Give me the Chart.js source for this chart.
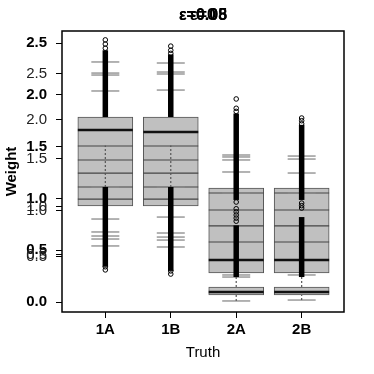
<!DOCTYPE html>
<html>
<head>
<meta charset="utf-8">
<script src="https://cdn.jsdelivr.net/npm/chart.js@4"></script>
<style>
  html, body { margin: 0; padding: 0; background: #fff; }
  #wrap { width: 374px; height: 374px; }
</style>
</head>
<body>
<div id="wrap"><canvas id="chart" width="374" height="374"></canvas></div>
<script>
// overlaid panels, values read on the bold (left-most) weight scale
const categories = ['1A', '1B', '2A', '2B'];
const titles = ['ε=0', 'ε=0.05', 'ε=0.08'];

const q1 = [0.927, 0.927, 0.280, 0.280];
const q3 = [1.786, 1.786, 1.100, 1.100];
const medians = [1.660, 1.641, 0.405, 0.405];

// the little boxes near zero under 2A / 2B
const lowQ1 = [null, null, 0.068, 0.068];
const lowQ3 = [null, null, 0.145, 0.145];
const lowMedians = [null, null, 0.097, 0.097];

const innerLines = [
    [1.506, 1.371, 1.245, 1.110, 0.994],
    [1.506, 1.371, 1.245, 1.110, 0.994],
    [1.052, 0.888, 0.734, 0.579],
    [1.052, 0.888, 0.734, 0.579]
];
const caps = [
    [2.317, 2.210, 2.191, 2.037, 1.110, 0.801, 0.676, 0.637, 0.608, 0.541],
    [2.307, 2.220, 2.201, 2.046, 1.110, 0.820, 0.666, 0.627, 0.598, 0.531],
    [1.419, 1.400, 1.371, 1.255, 1.052, 0.261, 0.241, 0.010],
    [1.409, 1.380, 1.245, 1.052, 0.261, 0.019]
];
const whiskers = [
    [[1.11, 1.51]],
    [[1.11, 1.51]],
    [[0.010, 0.068], [0.145, 0.26]],
    [[0.019, 0.068], [0.145, 0.26]]
];
// stretches where the outliers pile up into a solid column
const outlierBands = [
    [[0.34, 1.11], [1.786, 2.43]],
    [[0.30, 1.11], [1.786, 2.39]],
    [[0.241, 0.74], [0.985, 1.82]],
    [[0.241, 0.82], [0.985, 1.71]]
];
const outliers = [
    [2.53, 2.49, 2.45, 0.31, 0.34],
    [2.47, 2.43, 2.40, 0.27, 0.30],
    [1.96, 1.87, 1.84, 0.965, 0.90, 0.87, 0.84, 0.81, 0.78],
    [1.776, 1.75, 1.72, 0.955, 0.93, 0.907]
];

// bold scale is the real axis, the other two belong to the panels drawn underneath
const yTicks = [0, 0.5, 1.0, 1.5, 2.0, 2.5];
const y2Ticks = [0.5, 1.0, 2.0, 2.5];
const y3Ticks = [0.5, 1.0, 1.5];

const FONT = "'Liberation Sans', Arial, sans-serif";

const boxData = categories.map((c, i) => ({ x: i + 1, y: [q1[i], q3[i]] }));
const lowBoxData = [];
categories.forEach((c, i) => {
    if (lowQ1[i] !== null) lowBoxData.push({ x: i + 1, y: [lowQ1[i], lowQ3[i]] });
});
const pts = (lists) => {
    const out = [];
    lists.forEach((arr, i) => arr.forEach(v => { if (v !== null) out.push({ x: i + 1, y: v }); }));
    return out;
};

const datasets = [
    { type: 'bar', data: boxData, backgroundColor: '#c0c0c0', borderColor: '#555', borderWidth: 1,
      borderSkipped: false, barThickness: 55, grouped: false, order: 10 },
    { type: 'bar', data: lowBoxData, backgroundColor: '#c0c0c0', borderColor: '#555', borderWidth: 1,
      borderSkipped: false, barThickness: 55, grouped: false, order: 10 },
    { type: 'scatter', data: pts(innerLines), pointStyle: 'line', pointRadius: 27.5,
      borderColor: '#444', pointBorderWidth: 1.2, order: 8 },
    { type: 'scatter', data: pts(medians.map((m, i) => [m, lowMedians[i]])),
      pointStyle: 'line', pointRadius: 27.5, borderColor: '#111', pointBorderWidth: 2.5, order: 7 },
    { type: 'scatter', data: pts(caps), pointStyle: 'line', pointRadius: 14,
      borderColor: '#8a8a8a', pointBorderWidth: 1.3, order: 6 }
];

whiskers.forEach((segs, i) => segs.forEach(s => {
    datasets.push({ type: 'line', data: [{ x: i + 1, y: s[0] }, { x: i + 1, y: s[1] }],
        borderColor: '#555', borderWidth: 1.2, borderDash: [2, 2], pointRadius: 0, order: 5 });
}));
outlierBands.forEach((segs, i) => segs.forEach(s => {
    datasets.push({ type: 'line', data: [{ x: i + 1, y: s[0] }, { x: i + 1, y: s[1] }],
        borderColor: '#000', borderWidth: 5.5, pointRadius: 0, order: 3 });
}));
datasets.push({ type: 'scatter', data: pts(outliers), pointStyle: 'circle', pointRadius: 2.3,
    backgroundColor: 'rgba(0,0,0,0)', borderColor: '#000', pointBorderWidth: 1, order: 2 });

// frame, the extra (thin) tick scales and the stacked panel titles
const framePlugin = {
    id: 'frame',
    afterDraw(chart) {
        const { ctx, chartArea: a } = chart;
        ctx.save();
        ctx.strokeStyle = '#000';
        ctx.lineWidth = 1.5;
        ctx.strokeRect(a.left, a.top, a.right - a.left, a.bottom - a.top);

        ctx.lineWidth = 1;
        ctx.fillStyle = '#222';
        ctx.font = '15px ' + FONT;
        ctx.textAlign = 'right';
        ctx.textBaseline = 'middle';
        [['y2', y2Ticks], ['y3', y3Ticks]].forEach(([id, arr]) => {
            const sc = chart.scales[id];
            arr.forEach(v => {
                const py = Math.round(sc.getPixelForValue(v)) + 0.5;
                ctx.beginPath();
                ctx.moveTo(a.left - 6, py);
                ctx.lineTo(a.left, py);
                ctx.stroke();
                ctx.fillText(v.toFixed(1), a.left - 15, py);
            });
        });

        ctx.fillStyle = '#000';
        ctx.font = 'bold 16px ' + FONT;
        ctx.textAlign = 'center';
        titles.forEach(t => ctx.fillText(t, (a.left + a.right) / 2, 16));
        ctx.restore();
    }
};

const tickGrid = { drawOnChartArea: false, drawTicks: true, tickLength: 6, color: '#000', lineWidth: 1, offset: false };
const setTicks = (arr) => (scale) => { scale.ticks = arr.map(v => ({ value: v })); };

new Chart(document.getElementById('chart'), {
    type: 'bar',
    data: { datasets: datasets },
    options: {
        responsive: false,
        animation: false,
        events: [],
        layout: { padding: { top: 31, right: 19, left: 0, bottom: 0 } },
        plugins: { legend: { display: false }, tooltip: { enabled: false } },
        scales: {
            x: {
                type: 'linear', min: 0.338, max: 4.647, offset: false,
                afterBuildTicks: setTicks([1, 2, 3, 4]),
                afterFit: (s) => { s.height = 62; },
                grid: tickGrid, border: { display: false },
                ticks: { color: '#000', padding: 3, font: { family: FONT, size: 15, weight: 'bold' },
                         callback: (v) => categories[v - 1] },
                title: { display: true, text: 'Truth', color: '#000', padding: 12,
                         font: { family: FONT, size: 15 } }
            },
            y: {
                type: 'linear', position: 'left', min: -0.0965, max: 2.616,
                afterBuildTicks: setTicks(yTicks),
                afterFit: (s) => { s.width = 62; },
                grid: tickGrid, border: { display: false },
                ticks: { color: '#000', padding: 9, font: { family: FONT, size: 15, weight: 'bold' },
                         callback: (v) => v.toFixed(1) },
                title: { display: true, text: 'Weight', color: '#000', padding: 3,
                         font: { family: FONT, size: 15, weight: 'bold' } }
            },
            y2: { type: 'linear', display: false, min: -0.109, max: 2.958 },
            y3: { type: 'linear', display: false, min: -0.104, max: 2.823 }
        }
    },
    plugins: [framePlugin]
});
</script>
</body>
</html>
